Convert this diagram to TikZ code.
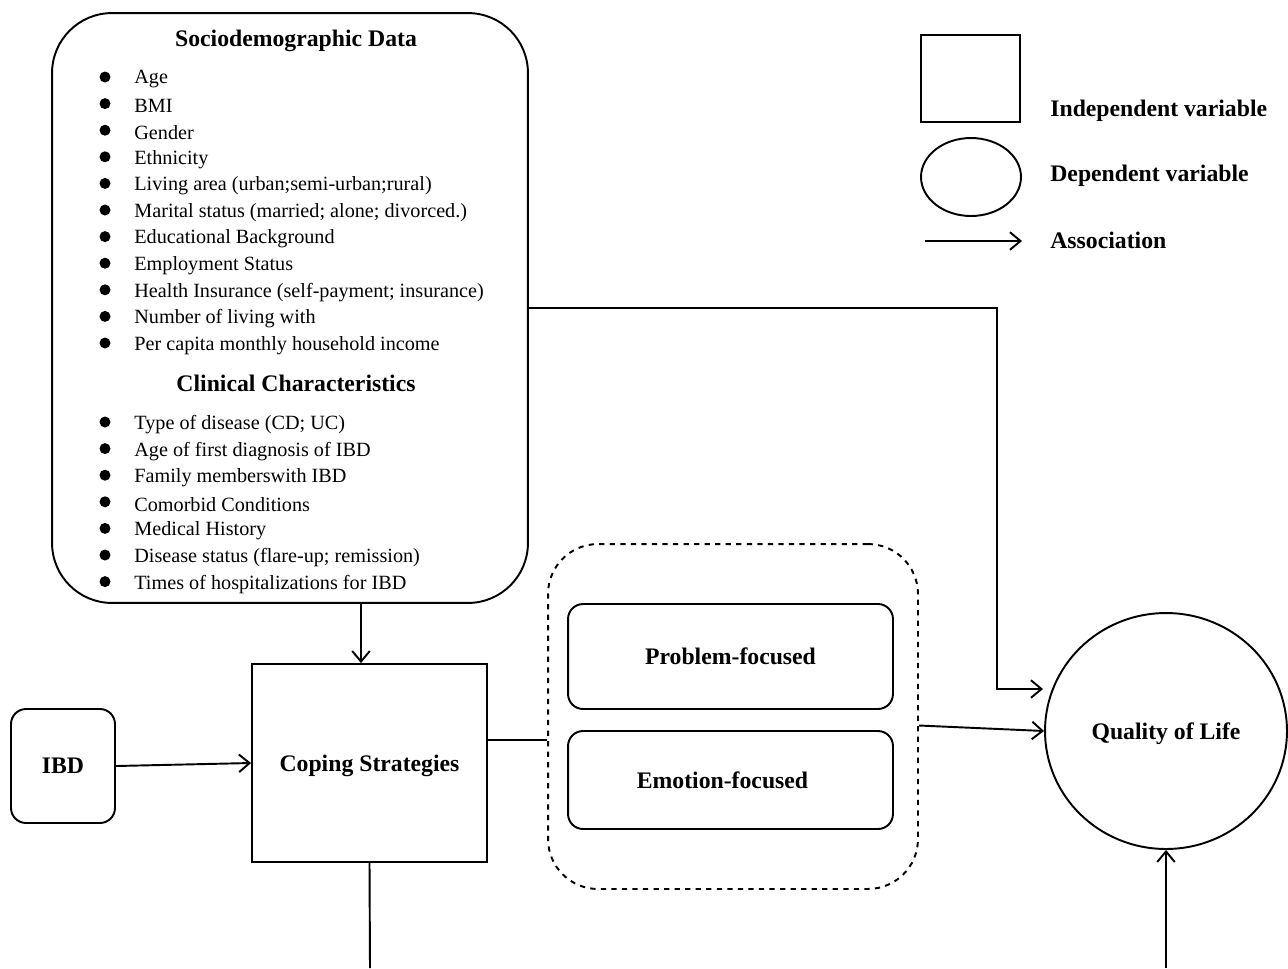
\documentclass[tikz,border=0pt]{standalone}
\usepackage{fontspec}
\setmainfont{Liberation Serif}
\usetikzlibrary{arrows.meta,shapes.geometric}

\tikzset{
  box/.style={draw, line width=1.1pt, inner sep=0pt},
  lbl/.style={font=\bfseries\fontsize{13.5}{15}\selectfont, text depth=0pt},
  item/.style={anchor=west, inner sep=0pt, yshift=-0.05cm, font=\fontsize{11.5}{13}\selectfont},
  line/.style={line width=1.1pt},
  link/.style={line width=1.1pt, -{Straight Barb[length=6pt,width=10pt]}},
}

\begin{document}
\begin{tikzpicture}[x=0.02cm,y=-0.02cm]
  \useasboundingbox (0,0) rectangle (1288,968);
  % one unit = one pixel of the original, y going down
  \def\bx{105}
  \def\tx{134}
  \def\dy{26.6}

  % factors box
  \node[box, rounded corners=1.2cm, minimum width=9.52cm, minimum height=11.8cm] (factors) at (290,308) {};
  \node[lbl] (socio) at (296,38) {Sociodemographic Data};
  \foreach \txt [count=\i] in {{Age}, {BMI}, {Gender}, {Ethnicity},
      {Living area (urban;semi-urban;rural)},
      {Marital status (married; alone; divorced.)},
      {Educational Background}, {Employment Status},
      {Health Insurance (self-payment; insurance)},
      {Number of living with}, {Per capita monthly household income}} {
    \fill (\bx,77+\i*\dy-\dy) circle (0.11cm);
    \node[item] at (\tx,77+\i*\dy-\dy) {\txt};
  }
  \node[lbl] (clin) at (296,383) {Clinical Characteristics};
  \foreach \txt [count=\i] in {{Type of disease (CD; UC)},
      {Age of first diagnosis of IBD}, {Family memberswith IBD},
      {Comorbid Conditions}, {Medical History},
      {Disease status (flare-up; remission)},
      {Times of hospitalizations for IBD}} {
    \fill (\bx,422+\i*\dy-\dy) circle (0.11cm);
    \node[item] at (\tx,422+\i*\dy-\dy) {\txt};
  }

  % main nodes
  \node[box, rounded corners=0.3cm, minimum width=2.08cm, minimum height=2.28cm, lbl] (ibd) at (63,766) {IBD};
  \node[box, minimum width=4.7cm, minimum height=3.96cm, lbl] (coping) at (369.5,763) {Coping Strategies};
  \node[box, dashed, rounded corners=1cm, minimum width=7.4cm, minimum height=6.9cm] (strat) at (733,716.5) {};
  \node[box, rounded corners=0.3cm, minimum width=6.5cm, minimum height=2.1cm, lbl] (problem) at (730.5,656.5) {Problem-focused};
  \node[box, rounded corners=0.3cm, minimum width=6.5cm, minimum height=1.96cm, lbl] (emotion) at (730.5,780) {\hspace*{-0.32cm}Emotion-focused};
  \node[box, ellipse, minimum width=4.84cm, minimum height=4.72cm, lbl] (qol) at (1166,731) {Quality of Life};

  % legend
  \node[box, minimum width=1.98cm, minimum height=1.74cm] (legsq) at (970.5,78.5) {};
  \node[box, ellipse, minimum width=2cm, minimum height=1.56cm] (legel) at (971,177) {};
  \coordinate (la) at (925,241);
  \coordinate (lb) at (1022,241);
  \draw[link] (la) -- (lb);
  \node[lbl, anchor=west, inner sep=0pt] (indep) at (1050,108) {Independent variable};
  \node[lbl, anchor=west, inner sep=0pt] (dep) at (1050,173) {Dependent variable};
  \node[lbl, anchor=west, inner sep=0pt] (assoc) at (1050,240) {Association};

  % connectors
  \coordinate (fx) at (361,0);
  \draw[link] (fx |- factors.south) -- (fx |- coping.north);
  \draw[link] (ibd.east) -- (coping.west);
  \coordinate (cs) at (487,740);
  \draw[line] (cs) -- (cs -| strat.west);
  \draw[link] ([yshift=-0.18cm]strat.east) -- (qol.west);
  \coordinate (bend) at (997,308);
  \coordinate (qin) at (1043,689);
  \draw[link] (factors.east) -- (bend) |- (qin);
  \coordinate (cbot) at (370,968);
  \draw[line] (coping.south) -- (cbot);
  \coordinate (qbot) at (1166,968);
  \draw[link] (qbot) -- (qol.south);
\end{tikzpicture}
\end{document}
